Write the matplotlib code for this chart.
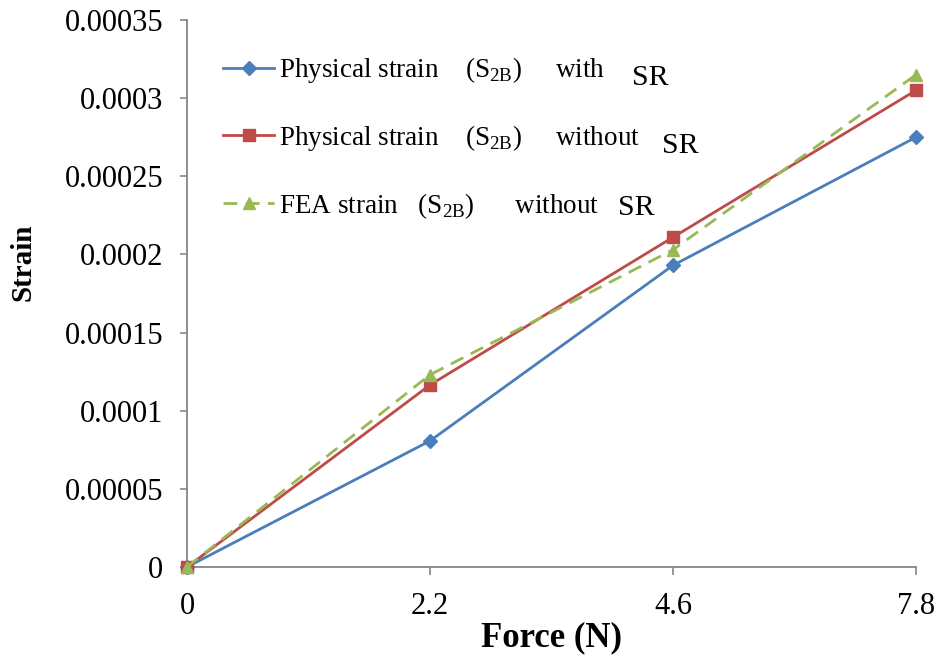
import matplotlib
matplotlib.use("Agg")
import matplotlib.pyplot as plt

plt.rcParams["font.family"] = ["Liberation Serif", "DejaVu Serif"]
plt.rcParams["mathtext.fontset"] = "custom"
plt.rcParams["mathtext.rm"] = "Liberation Serif"

# Data
force_labels = ["0", "2.2", "4.6", "7.8"]
strain_with_sr = [0.0, 0.0000807, 0.000193, 0.000275]
strain_without_sr = [0.0, 0.0001165, 0.000211, 0.000305]
fea_strain_without_sr = [0.0, 0.000123, 0.000203, 0.000315]
y_ticks = [0, 0.00005, 0.0001, 0.00015, 0.0002, 0.00025, 0.0003, 0.00035]
y_tick_labels = ["0", "0.00005", "0.0001", "0.00015", "0.0002", "0.00025", "0.0003", "0.00035"]

labels = [
    "Physical strain    (S$_{\\mathregular{2B}}$)     with",
    "Physical strain    (S$_{\\mathregular{2B}}$)     without",
    "FEA strain   (S$_{\\mathregular{2B}}$)      without",
]

W, H = 938, 657
fig = plt.figure(figsize=(W / 100, H / 100), dpi=100)
ax = fig.add_axes([187 / W, 1 - 567 / H, (916 - 187) / W, (567 - 20) / H])

x = list(range(len(force_labels)))
blue, red, green = "#4a7ebb", "#be4b48", "#98b954"

ax.plot(x, strain_with_sr, color=blue, lw=2.0, marker="D", ms=7,
        markerfacecolor=blue, markeredgecolor=blue, label=labels[0],
        zorder=3, clip_on=False)
ax.plot(x, strain_without_sr, color=red, lw=2.0, marker="s", ms=8,
        markerfacecolor=red, markeredgecolor=red, label=labels[1],
        zorder=4, clip_on=False)
ax.plot(x, fea_strain_without_sr, color=green, lw=2.0, ls=(0, (5, 3)),
        marker="^", ms=9, markerfacecolor=green, markeredgecolor=green,
        label=labels[2], zorder=5, clip_on=False)

ax.set_xlim(0, len(force_labels) - 1)
ax.set_ylim(0, 0.00035)
ax.set_xticks(x)
ax.set_xticklabels(force_labels)
ax.set_yticks(y_ticks)
ax.set_yticklabels(y_tick_labels)

spine_col = "#868686"
for s in ["top", "right"]:
    ax.spines[s].set_visible(False)
for s in ["left", "bottom"]:
    ax.spines[s].set_color(spine_col)
    ax.spines[s].set_linewidth(1.3)
    ax.spines[s].set_zorder(2)
ax.tick_params(axis="y", direction="out", length=5, width=1.2, color=spine_col,
               labelsize=22, pad=12)
ax.tick_params(axis="x", direction="out", length=6, width=1.2, color=spine_col,
               labelsize=22, pad=12)

ax.set_xlabel("Force (N)", fontsize=25, fontweight="bold", labelpad=0)
ax.set_ylabel("Strain", fontsize=21, fontweight="bold")
ax.yaxis.set_label_coords(37 / W, 1 - 262 / H, transform=fig.transFigure)

leg = ax.legend(loc="upper left", bbox_to_anchor=(223 / W, 1 - 55 / H),
                bbox_transform=fig.transFigure, frameon=False, fontsize=19.5,
                borderpad=0, borderaxespad=0, handlelength=1.9,
                handletextpad=0.15, labelspacing=1.4)

# "SR" suffixes, set in a larger type
fig.text(632 / W, 1 - 85 / H, "SR", fontsize=21.5, va="baseline", ha="left")
fig.text(662 / W, 1 - 153 / H, "SR", fontsize=21.5, va="baseline", ha="left")
fig.text(618 / W, 1 - 215 / H, "SR", fontsize=21.5, va="baseline", ha="left")

fig.savefig("out.png", dpi=100)
